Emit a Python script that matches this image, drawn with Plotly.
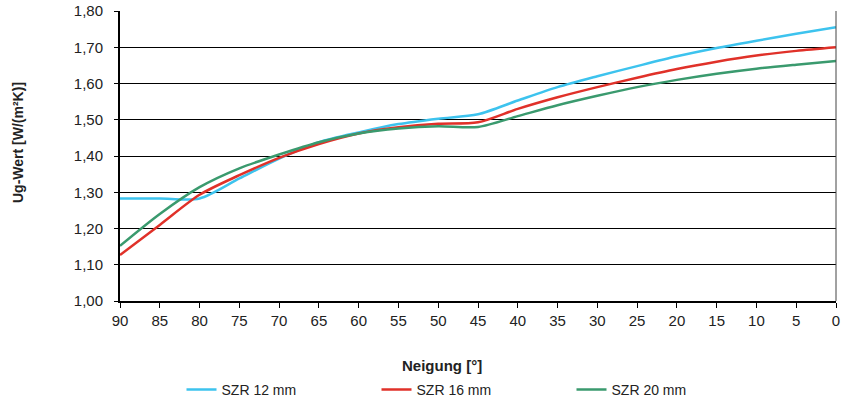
import plotly.graph_objects as go

neigung = [90, 85, 80, 75, 70, 65, 60, 55, 50, 45, 40, 35, 30, 25, 20, 15, 10, 5, 0]
szr12 = [1.283, 1.283, 1.283, 1.338, 1.393, 1.438, 1.465, 1.488, 1.503, 1.515, 1.553, 1.590, 1.620, 1.648, 1.675, 1.698, 1.718, 1.737, 1.755]
szr16 = [1.127, 1.210, 1.293, 1.347, 1.395, 1.433, 1.462, 1.479, 1.489, 1.493, 1.530, 1.562, 1.590, 1.616, 1.640, 1.660, 1.677, 1.690, 1.700]
szr20 = [1.152, 1.240, 1.314, 1.366, 1.404, 1.438, 1.462, 1.476, 1.482, 1.480, 1.510, 1.540, 1.566, 1.590, 1.610, 1.627, 1.641, 1.652, 1.662]

series = [
    ("SZR 12 mm", szr12, "#3dc3ee"),
    ("SZR 16 mm", szr16, "#e03129"),
    ("SZR 20 mm", szr20, "#3a9a6e"),
]

fig = go.Figure()
for name, vals, col in series:
    fig.add_trace(go.Scatter(x=neigung, y=vals, name=name, mode="lines",
                             line=dict(color=col, width=2.5, shape="spline", smoothing=0.8)))

font = "Liberation Sans, Arial, sans-serif"
W, H = 845, 400
PL, PR, PT, PB = 120, 836, 11, 301  # plot area in page pixels
L, R, T, B = PL, W - PR, PT, H - PB


def px(x):
    return (x - PL) / (PR - PL)


def py(y):
    return (PB - y) / (PB - PT)


fig.update_layout(
    width=W, height=H,
    margin=dict(l=L, r=R, t=T, b=B, autoexpand=False),
    paper_bgcolor="white", plot_bgcolor="white",
    separators=",.",
    font=dict(family=font, size=15, color="#222"),
    showlegend=True,
    legend=dict(orientation="h", xref="container", yref="container",
                x=(185 - 3.5) / W, xanchor="left",
                y=(H - 390) / H, yanchor="middle",
                font=dict(size=14, color="#222"), entrywidth=150, entrywidthmode="pixels",
                itemwidth=30, tracegroupgap=0),
    xaxis=dict(range=[90, 0], dtick=5, tick0=0, showgrid=False, zeroline=False,
               showline=True, linecolor="black", linewidth=1.5, automargin=False,
               ticks="outside", ticklen=5, tickcolor="black", tickfont=dict(size=15),
               ticklabeloverflow="allow"),
    yaxis=dict(range=[1.0, 1.8], dtick=0.1, tickformat=".2f", showgrid=True,
               gridcolor="black", gridwidth=1, zeroline=False, automargin=False,
               showline=True, linecolor="black", linewidth=2,
               ticks="outside", ticklen=4, tickcolor="black", tickfont=dict(size=15),
               ticklabelstandoff=8, ticklabeloverflow="allow"),
    shapes=[dict(type="line", xref="paper", yref="paper", x0=1, x1=1, y0=0, y1=1,
                 line=dict(color="#444", width=1))],
    annotations=[
        dict(text="<b>Neigung [°]</b>", xref="paper", yref="paper",
             x=px(442), y=py(365), xanchor="center", yanchor="middle",
             showarrow=False, font=dict(size=15, color="#222")),
        dict(text="<b>Ug-Wert [W/(m²K)]</b>", xref="paper", yref="paper",
             x=px(18), y=py(143), xanchor="center", yanchor="middle", textangle=-90,
             showarrow=False, font=dict(size=14, color="#222")),
    ],
)

fig.write_html("out.html", config={"displayModeBar": False},
               post_script="document.body.style.margin='0';")
